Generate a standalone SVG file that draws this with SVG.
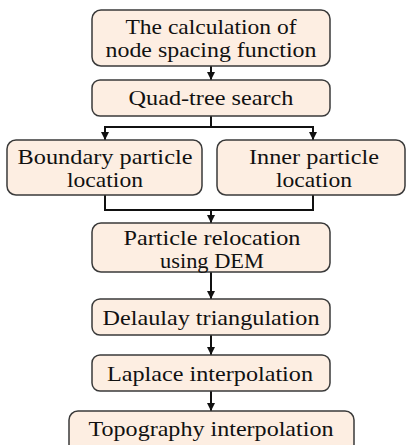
<svg xmlns="http://www.w3.org/2000/svg" width="406" height="445" viewBox="0 0 406 445">
<defs>
<marker id="ah" viewBox="0 0 8 8" refX="8" refY="4" markerWidth="8" markerHeight="8" markerUnits="userSpaceOnUse" orient="auto">
<path d="M0,0 L8,4 L0,8 Z" fill="#111"/>
</marker>
</defs>
<style>
.box{fill:#fdeee2;stroke:#3a3a3a;stroke-width:1.5}
.c{fill:none;stroke:#111;stroke-width:2}
</style>
<rect width="406" height="445" fill="#fff"/>
<g id="connectors">
<line class="c" x1="211" y1="66" x2="211" y2="80" marker-end="url(#ah)"/>
<polyline class="c" points="211,116 211,127"/>
<polyline class="c" points="105,140 105,127 313,127 313,140"/>
<line class="c" x1="105" y1="127" x2="105" y2="140" marker-end="url(#ah)"/>
<line class="c" x1="313" y1="127" x2="313" y2="140" marker-end="url(#ah)"/>
<polyline class="c" points="105,195 105,210 313,210 313,195"/>
<line class="c" x1="211" y1="210" x2="211" y2="223" marker-end="url(#ah)"/>
<line class="c" x1="211" y1="272" x2="211" y2="299" marker-end="url(#ah)"/>
<line class="c" x1="211" y1="335" x2="211" y2="355" marker-end="url(#ah)"/>
<line class="c" x1="211" y1="391" x2="211" y2="411" marker-end="url(#ah)"/>
</g>
<g font-family="Liberation Serif" font-size="22" fill="#111" text-anchor="middle">
<g id="n1"><rect class="box" x="92" y="10" width="238" height="56" rx="9"/>
<text x="211" y="34" font-family="Liberation Serif" textLength="171" lengthAdjust="spacingAndGlyphs">The calculation of</text><text x="211" y="57" font-family="Liberation Serif" textLength="211" lengthAdjust="spacingAndGlyphs">node spacing function</text></g>
<g id="n2"><rect class="box" x="92" y="80" width="238" height="36" rx="8"/>
<text x="211" y="105" font-family="Liberation Serif" textLength="165" lengthAdjust="spacingAndGlyphs">Quad-tree search</text></g>
<g id="n3"><rect class="box" x="7" y="140" width="195" height="55" rx="9"/>
<text x="105" y="164" font-family="Liberation Serif" textLength="175" lengthAdjust="spacingAndGlyphs">Boundary particle</text><text x="105" y="187" font-family="Liberation Serif" textLength="76" lengthAdjust="spacingAndGlyphs">location</text></g>
<g id="n4"><rect class="box" x="217" y="140" width="188" height="55" rx="9"/>
<text x="314" y="164" font-family="Liberation Serif" textLength="130" lengthAdjust="spacingAndGlyphs">Inner particle</text><text x="314" y="187" font-family="Liberation Serif" textLength="76" lengthAdjust="spacingAndGlyphs">location</text></g>
<g id="n5"><rect class="box" x="92" y="223" width="238" height="49" rx="9"/>
<text x="212" y="245" font-family="Liberation Serif" textLength="177" lengthAdjust="spacingAndGlyphs">Particle relocation</text><text x="212" y="268" font-family="Liberation Serif" textLength="104" lengthAdjust="spacingAndGlyphs">using DEM</text></g>
<g id="n6"><rect class="box" x="92" y="299" width="238" height="36" rx="8"/>
<text x="211" y="325" font-family="Liberation Serif" textLength="217" lengthAdjust="spacingAndGlyphs">Delaulay triangulation</text></g>
<g id="n7"><rect class="box" x="92" y="355" width="238" height="36" rx="8"/>
<text x="210" y="381" font-family="Liberation Serif" textLength="206" lengthAdjust="spacingAndGlyphs">Laplace interpolation</text></g>
<g id="n8"><rect class="box" x="69" y="411" width="285" height="42" rx="9"/>
<text x="211" y="436" font-family="Liberation Serif" textLength="245" lengthAdjust="spacingAndGlyphs">Topography interpolation</text></g>
</g>
</svg>
